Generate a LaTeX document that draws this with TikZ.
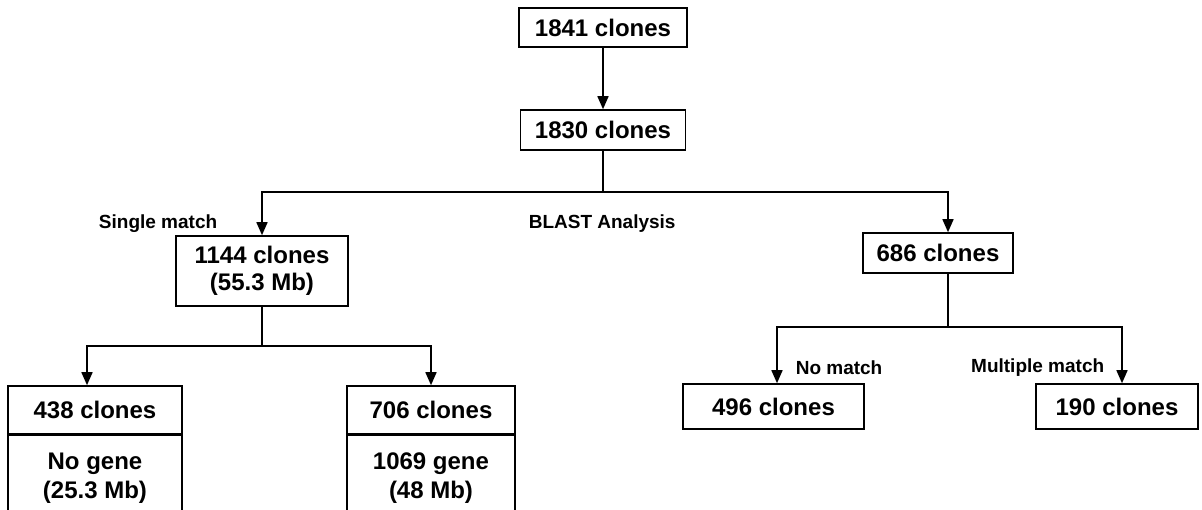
\documentclass[tikz,border=0pt]{standalone}
\usepackage{fontspec}
\setmainfont{Liberation Sans}
\usetikzlibrary{arrows.meta,positioning}

\begin{document}
\begin{tikzpicture}[x=1pt,y=-1pt,line width=1.6pt,
  box/.style={draw,font=\bfseries\fontsize{24}{27}\selectfont,align=center,inner sep=0pt},
  lbl/.style={font=\bfseries\fontsize{19}{22}\selectfont,inner sep=0pt},
  arr/.style={-{Triangle[length=13pt,width=11pt]}}]
\useasboundingbox (0,0) rectangle (1202,509);
% top of the tree
\node[box,minimum width=168pt,minimum height=39pt] (n1841) at (603,27.5) {1841 clones};
\node[box,minimum width=165pt,minimum height=40pt] (n1830) at (603,130) {1830 clones};
\draw[arr] (n1841) -- (n1830);
\coordinate (b1) at (603,192);
% BLAST split
\node[box,minimum width=172pt,minimum height=70pt] (n1144) at (262,271) {1144 clones\\(55.3 Mb)};
\node[box,minimum width=150pt,minimum height=40pt] (n686) at (938,253) {686 clones};
\coordinate (t686) at ([xshift=10pt]n686.north);
\coordinate (s686) at ([xshift=10pt]n686.south);
\draw (n1830) -- (b1);
\draw[arr] (b1) -| (n1144.north);
\draw[arr] (b1) -| (t686);
\node[lbl,anchor=east] (single) at (218,224) {Single match};
\node[lbl,anchor=west] (blast) at (528,224) {BLAST Analysis};
% left branch
\node[box,minimum width=174pt,minimum height=48pt] (n438) at (95,410) {438 clones};
\node[box,minimum width=174pt,minimum height=86pt,below=0pt of n438,font=\bfseries\fontsize{24}{29}\selectfont] (n438g) {No gene\\(25.3 Mb)};
\node[box,minimum width=168pt,minimum height=48pt] (n706) at (431,410) {706 clones};
\node[box,minimum width=168pt,minimum height=86pt,below=0pt of n706,font=\bfseries\fontsize{24}{29}\selectfont] (n706g) {1069 gene\\(48 Mb)};
\coordinate (b2) at (262,346);
\coordinate (t438) at ([xshift=-8pt]n438.north);
\draw (n1144) -- (b2);
\draw[arr] (b2) -| (t438);
\draw[arr] (b2) -| (n706.north);
% right branch
\node[box,minimum width=181pt,minimum height=45pt] (n496) at (773.5,406.5) {496 clones};
\node[box,minimum width=162pt,minimum height=45pt] (n190) at (1117,406.5) {190 clones};
\coordinate (b3) at (948,327);
\coordinate (t496) at ([xshift=3.5pt]n496.north);
\coordinate (t190) at ([xshift=5pt]n190.north);
\draw (s686) -- (b3);
\draw[arr] (b3) -| (t496);
\draw[arr] (b3) -| (t190);
\node[lbl,anchor=west] (nomatch) at (795,368) {No match};
\node[lbl,anchor=east] (multi) at (1105,368) {Multiple match};
\end{tikzpicture}
\end{document}
